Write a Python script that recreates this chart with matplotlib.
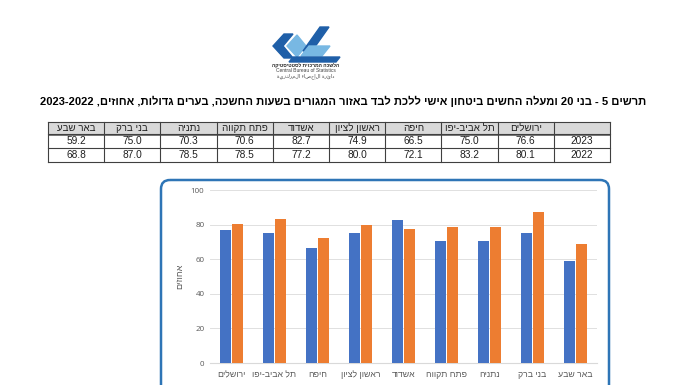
import numpy as np
import matplotlib
matplotlib.use("Agg")
import matplotlib.pyplot as plt
from matplotlib.patches import Rectangle, FancyBboxPatch, Polygon

# ---------------- data ----------------
cities = ['ירושלים', 'תל אביב-יפו', 'חיפה', 'ראשון לציון', 'אשדוד',
          'פתח תקווה', 'נתניה', 'בני ברק', 'באר שבע']
years = ['2023', '2022']
vals_2023 = [76.6, 75.0, 66.5, 74.9, 82.7, 70.6, 70.3, 75.0, 59.2]
vals_2022 = [80.1, 83.2, 72.1, 80.0, 77.2, 78.5, 78.5, 87.0, 68.8]
yticks = [0, 20, 40, 60, 80, 100]

title = ('תרשים 5 - בני 20 ומעלה החשים ביטחון אישי ללכת לבד באזור המגורים '
         'בשעות החשכה, בערים גדולות, אחוזים, 2023-2022')
ylabel = 'אחוזים'

BLUE = '#4472c4'
ORANGE = '#ed7d31'
GRAY = '#595959'
FONT = ['Liberation Sans', 'DejaVu Sans']


def vis(s):
    """very small bidi: put hebrew text into visual (left-to-right) order"""
    out = []
    for w in s.split(' ')[::-1]:
        if any('\u0590' <= c <= '\u05ff' for c in w):
            out.append(w[::-1])
        else:
            out.append(w)
    return ' '.join(out)


W, H = 696, 385
fig = plt.figure(figsize=(W / 100, H / 100), dpi=100)
fig.patch.set_facecolor('white')

# overlay axes in pixel coordinates for title, logo, table and frame
ov = fig.add_axes([0, 0, 1, 1])
ov.set_xlim(0, W)
ov.set_ylim(H, 0)
ov.axis('off')

# ---------------- logo ----------------
dark = '#1f5fa8'
light = '#78b8e3'
ov.add_patch(Polygon([(273, 46), (284, 34), (293, 34), (283, 46), (293, 58), (284, 58)], color=dark))
ov.add_patch(Polygon([(287, 46), (297, 35), (306, 46), (297, 57)], color=light))
ov.add_patch(Polygon([(320, 27), (329, 27), (312, 51), (303, 51)], color=dark))
ov.add_patch(Polygon([(309, 46), (330, 46), (322, 56), (301, 56)], color=light))
ov.add_patch(Polygon([(293, 57), (340, 57), (336, 62), (289, 62)], color=dark))
ov.text(306, 65.5, vis('הלשכה המרכזית לסטטיסטיקה'), fontsize=3.6, ha='center', va='center',
        family=FONT, color='#202020', fontweight='bold')
ov.text(306, 71, 'Central Bureau of Statistics', fontsize=3.5, ha='center', va='center',
        family=FONT, color='#404040')
ov.text(306, 76.5, 'ةيزكرملا ءاصحإلا ةرئاد', fontsize=3.5, ha='center', va='center',
        family=['DejaVu Sans'], color='#404040')

# ---------------- title ----------------
ov.text(343, 101, vis(title), fontsize=8.0, fontweight='bold', ha='center', va='center',
        family=FONT, color='black')

# ---------------- table ----------------
col_w = 56.2
tx0 = 48
ty = [122, 134, 148, 162]
ncol = len(cities) + 1
# header background
ov.add_patch(Rectangle((tx0, ty[0]), col_w * ncol, ty[1] - ty[0], facecolor='#d9d9d9',
                       edgecolor='none'))
for i in range(ncol + 1):
    ov.plot([tx0 + i * col_w] * 2, [ty[0], ty[-1]], color='#404040', lw=0.8)
for y in ty:
    ov.plot([tx0, tx0 + col_w * ncol], [y, y], color='#404040', lw=0.8)
ov.plot([tx0, tx0 + col_w * ncol], [ty[1] + 0.8, ty[1] + 0.8], color='#404040', lw=0.5)

rows = [vals_2023, vals_2022]
for j, city in enumerate(cities):
    cx = tx0 + (ncol - 2 - j) * col_w + col_w / 2
    ov.text(cx, (ty[0] + ty[1]) / 2, vis(city), fontsize=7, ha='center', va='center',
            family=FONT, color='#202020')
    for r, row in enumerate(rows):
        ov.text(cx, (ty[r + 1] + ty[r + 2]) / 2, '%.1f' % row[j], fontsize=7.3, ha='center',
                va='center', family=FONT, color='#202020')
for r, yr in enumerate(years):
    ov.text(tx0 + (ncol - 1) * col_w + col_w / 2, (ty[r + 1] + ty[r + 2]) / 2, yr,
            fontsize=7.3, ha='center', va='center', family=FONT, color='#202020')

# ---------------- chart frame ----------------
ov.add_patch(FancyBboxPatch((161, 180), 448, 230, boxstyle='round,pad=0,rounding_size=9',
                            facecolor='none', edgecolor='#2e75b6', lw=1.8, clip_on=True))

# ---------------- bar chart ----------------
ax = fig.add_axes([210 / W, 22 / H, 387 / W, 173 / H])
ax.patch.set_alpha(0)
x = np.arange(len(cities))
width = 0.235
ax.bar(x - 0.14, vals_2023, width, color=BLUE, zorder=3)
ax.bar(x + 0.14, vals_2022, width, color=ORANGE, zorder=3)

ax.set_xlim(-0.5, len(cities) - 0.5)
ax.set_ylim(0, 100)
ax.set_yticks(yticks)
ax.set_yticklabels([str(t) for t in yticks], fontsize=5.8, color=GRAY, family=['Open Sans', 'DejaVu Sans'])
ax.set_xticks(x)
ax.set_xticklabels([vis(c) for c in cities], fontsize=6.3, color=GRAY, family=FONT)
ax.tick_params(axis='both', length=0, pad=4)
ax.tick_params(axis='x', pad=5)
ax.grid(axis='y', color='#e0e0e0', lw=0.7, zorder=0)
for s in ['top', 'right', 'left']:
    ax.spines[s].set_visible(False)
ax.spines['bottom'].set_color('#d9d9d9')
ax.spines['bottom'].set_linewidth(0.8)
ax.set_ylabel(vis(ylabel), fontsize=6.5, color=GRAY, family=FONT, labelpad=5)

plt.savefig('out.png', dpi=100, facecolor='white')
